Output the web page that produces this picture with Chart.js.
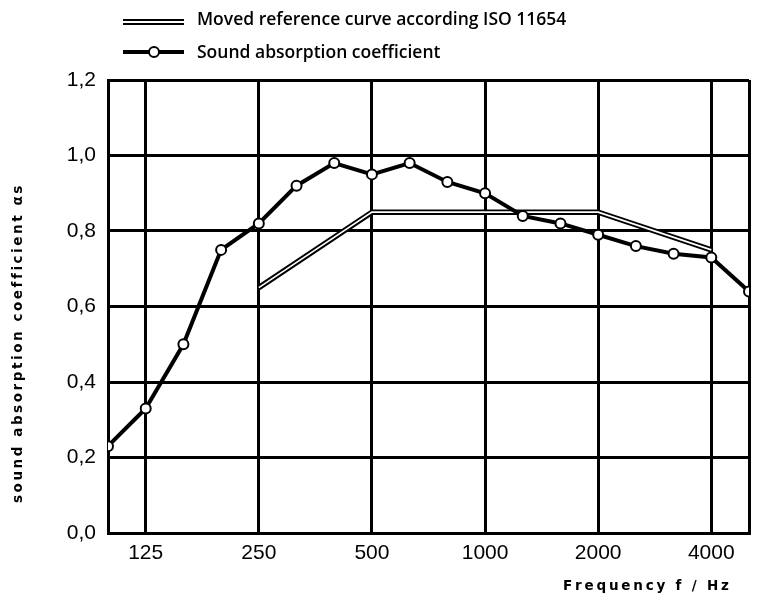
<!DOCTYPE html>
<html>
<head>
<meta charset="utf-8">
<script src="https://cdn.jsdelivr.net/npm/chart.js@4"></script>
<style>
  html, body { margin: 0; padding: 0; background: #fff; }
  #wrap { width: 757px; height: 599px; }
</style>
</head>
<body>
<div id="wrap"><canvas id="chart" width="757" height="599"></canvas></div>
<script>
// third-octave bands 100 Hz .. 5000 Hz, placed by index on the x axis
const bands = [100, 125, 160, 200, 250, 315, 400, 500, 630, 800, 1000, 1250, 1600, 2000, 2500, 3150, 4000, 5000];
const absorption = [0.23, 0.33, 0.50, 0.75, 0.82, 0.92, 0.98, 0.95, 0.98, 0.93, 0.90, 0.84, 0.82, 0.79, 0.76, 0.74, 0.73, 0.64];
const refBands = [250, 500, 1000, 2000, 4000];
const refValues = [0.65, 0.85, 0.85, 0.85, 0.75];
const xTickBands = [125, 250, 500, 1000, 2000, 4000];
const yTicks = [0, 0.2, 0.4, 0.6, 0.8, 1.0, 1.2];

const legendLabels = ['Moved reference curve according ISO 11654', 'Sound absorption coefficient'];
const yTitle = 'sound absorption coefficient \u03b1s';
const xTitle = 'Frequency f / Hz';

const idx = f => bands.indexOf(f);
const mainPts = absorption.map((v, i) => ({ x: i, y: v }));
const refPts = refBands.map((f, i) => ({ x: idx(f), y: refValues[i] }));

const labelFont = '"Open Sans", "DejaVu Sans", sans-serif';
const titleFont = '"DejaVu Sans", sans-serif';
const tickFont = '"Liberation Sans", Arial, sans-serif';

// draw spaced-out text so it spans a given width
function spacedText(ctx, text, x, y, width, align) {
    const n = text.length;
    const base = ctx.measureText(text).width;
    const gap = n > 1 ? (width - base) / (n - 1) : 0;
    let cx = align === 'center' ? x - width / 2 : align === 'right' ? x - width : x;
    ctx.textAlign = 'left';
    for (const ch of text) {
        ctx.fillText(ch, cx, y);
        cx += ctx.measureText(ch).width + gap;
    }
}

const decor = {
    id: 'decor',
    afterDraw(chart) {
        const ctx = chart.ctx;
        ctx.save();
        // legend symbols
        ctx.lineCap = 'butt';
        ctx.strokeStyle = '#000';
        ctx.lineWidth = 6;
        ctx.beginPath(); ctx.moveTo(123, 22); ctx.lineTo(184, 22); ctx.stroke();
        ctx.strokeStyle = '#fff';
        ctx.lineWidth = 1.8;
        ctx.beginPath(); ctx.moveTo(122, 22); ctx.lineTo(185, 22); ctx.stroke();

        ctx.strokeStyle = '#000';
        ctx.lineWidth = 4;
        ctx.beginPath(); ctx.moveTo(123, 52); ctx.lineTo(184, 52); ctx.stroke();
        ctx.fillStyle = '#fff';
        ctx.lineWidth = 2;
        ctx.beginPath(); ctx.arc(154, 52, 5, 0, Math.PI * 2); ctx.fill(); ctx.stroke();

        ctx.fillStyle = '#000';
        ctx.font = '600 17.5px ' + labelFont;
        ctx.textBaseline = 'middle';
        ctx.textAlign = 'left';
        ctx.fillText(legendLabels[0], 197, 20);
        ctx.fillText(legendLabels[1], 197, 53);

        // axis titles
        ctx.font = 'bold 13.5px ' + titleFont;
        spacedText(ctx, xTitle, 728, 586, 165, 'right');
        ctx.translate(18, 345);
        ctx.rotate(-Math.PI / 2);
        spacedText(ctx, yTitle, 0, 0, 316, 'center');
        ctx.restore();
    }
};

new Chart(document.getElementById('chart'), {
    type: 'line',
    data: {
        datasets: [
            {
                data: mainPts,
                borderColor: '#000',
                borderWidth: 4,
                pointRadius: 5,
                pointBorderWidth: 2,
                pointBackgroundColor: '#fff',
                pointBorderColor: '#000',
                tension: 0,
                order: 0,
            },
            {
                data: refPts,
                borderColor: '#000',
                borderWidth: 5.5,
                pointRadius: 0,
                tension: 0,
                order: 2,
            },
            {
                data: refPts,
                borderColor: '#fff',
                borderWidth: 1.6,
                pointRadius: 0,
                tension: 0,
                order: 1,
            },
        ],
    },
    options: {
        responsive: false,
        animation: false,
        layout: { padding: { top: 80, right: 5, left: 0, bottom: 0 } },
        plugins: { legend: { display: false }, tooltip: { enabled: false } },
        scales: {
            x: {
                type: 'linear',
                min: 0,
                max: bands.length - 1,
                afterBuildTicks: s => {
                    s.ticks = [0, ...xTickBands.map(idx), bands.length - 1].map(v => ({ value: v }));
                },
                afterFit: s => { s.height = 66; },
                grid: { color: '#000', lineWidth: 3, drawTicks: false },
                border: { display: true, color: '#000', width: 3 },
                ticks: {
                    color: '#000',
                    padding: 8,
                    autoSkip: false,
                    maxRotation: 0,
                    font: { family: tickFont, size: 21 },
                    callback: v => (xTickBands.includes(bands[v]) ? String(bands[v]) : ''),
                },
            },
            y: {
                min: 0,
                max: 1.2,
                afterBuildTicks: s => { s.ticks = yTicks.map(v => ({ value: v })); },
                afterFit: s => { s.width = 108; },
                grid: { color: '#000', lineWidth: 3, drawTicks: false },
                border: { display: true, color: '#000', width: 3 },
                ticks: {
                    color: '#000',
                    padding: 12,
                    font: { family: tickFont, size: 21 },
                    callback: v => v.toFixed(1).replace('.', ','),
                },
            },
        },
    },
    plugins: [decor],
});
</script>
</body>
</html>
